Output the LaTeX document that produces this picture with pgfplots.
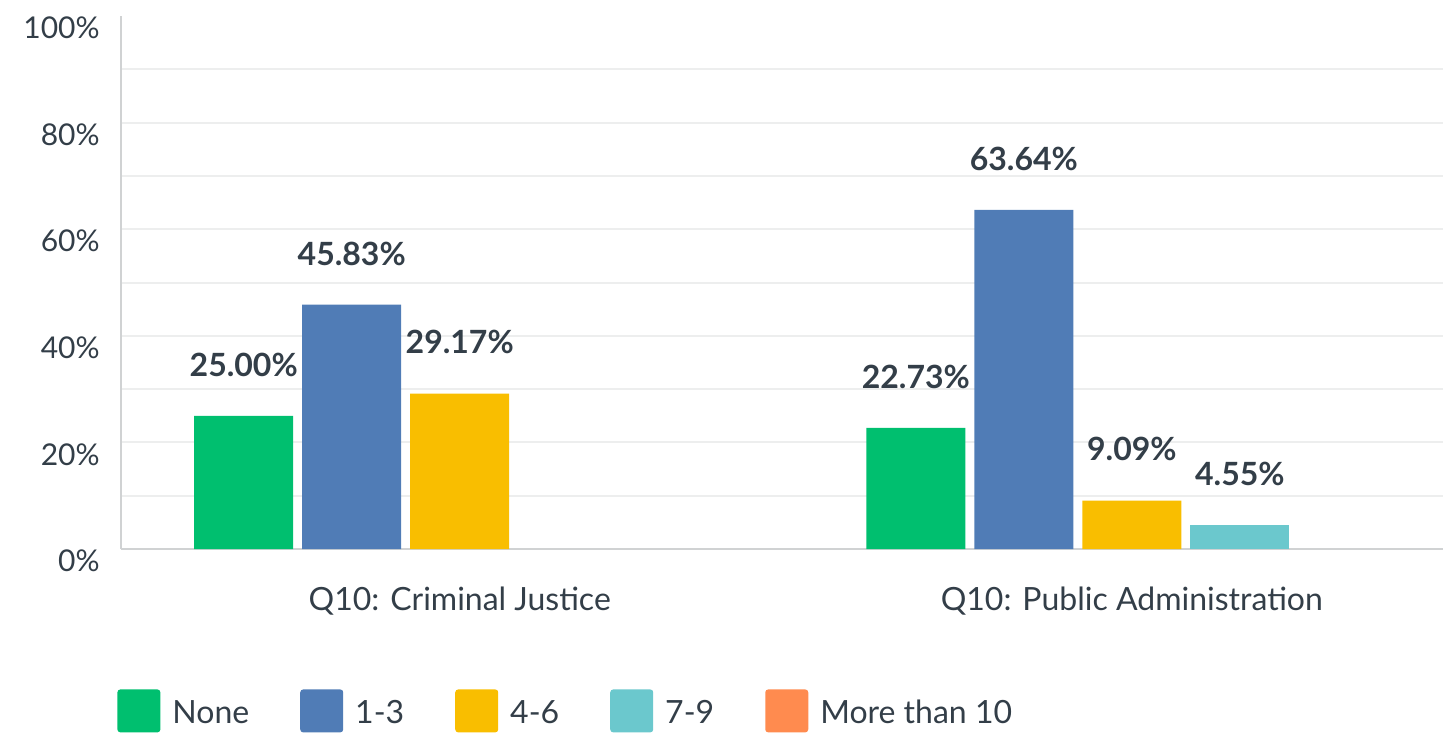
\documentclass[border=0pt]{standalone}
\usepackage{pgfplots}
\pgfplotsset{compat=1.18}
\usepackage{fontspec}
\setmainfont{Lato}

\definecolor{cNone}{HTML}{00BF6F}
\definecolor{cOneThree}{HTML}{507CB6}
\definecolor{cFourSix}{HTML}{F9BE00}
\definecolor{cSevenNine}{HTML}{6BC8CD}
\definecolor{cMore}{HTML}{FF8B4F}
\definecolor{txt}{HTML}{333E48}
\definecolor{gridc}{HTML}{EDEEEE}
\definecolor{axc}{HTML}{D0D2D3}

\pgfplotsset{
  sq legend/.style={legend image code/.code={
    \fill[##1, draw=none, rounded corners=1.5pt] (0pt,-9.5pt) rectangle (21.5pt,12pt);}},
}

\begin{document}
\begin{tikzpicture}
\begin{axis}[
  scale only axis, width=661pt, height=266.5pt,
  xmin=-0.504, xmax=1.463, ymin=0, ymax=100,
  ybar=4.5pt, bar width=49.5pt,
  axis lines=left,
  axis line style={-, draw=axc, line width=1pt},
  major tick length=0pt, minor tick length=0pt,
  ytick={0,10,...,90},
  yticklabels={0\%,,20\%,,40\%,,60\%,,80\%,},
  extra y ticks={100},
  extra y tick labels={100\%},
  extra y tick style={grid=none},
  ymajorgrids,
  grid style={draw=gridc, line width=1pt},
  yticklabel style={anchor=east, inner sep=0pt, xshift=-10.5pt, yshift=-6pt,
    font=\fontsize{15}{18}\selectfont, text=txt},
  xtick={0,1},
  xticklabels={Q10: Criminal Justice, Q10: Public Administration},
  xticklabel style={anchor=north, inner sep=0pt, yshift=-19pt,
    font=\fontsize{16}{19}\selectfont, text=txt},
  nodes near coords={\pgfmathprintnumber[fixed,fixed zerofill,precision=2,assume math mode=true]{\pgfplotspointmeta}\%},
  every node near coord/.append style={anchor=south, inner sep=0pt, yshift=19.5pt,
    font=\bfseries\fontsize{16}{19}\selectfont, text=txt},
  legend columns=5,
  legend cell align=left,
  legend style={at={(rel axis cs:0,0)}, anchor=north west, xshift=-2pt, yshift=-70pt,
    draw=none, fill=none, inner sep=0pt,
    font=\fontsize{16}{19}\selectfont, text=txt,
    /tikz/every odd column/.append style={column sep=4pt},
    /tikz/every even column/.append style={column sep=23.5pt}},
]
\addplot[sq legend, fill=cNone, draw=none, bar shift=-108pt] coordinates {(0,25.00) (1,22.73)};
\addlegendentry{None}
\addplot[sq legend, fill=cOneThree, draw=none, bar shift=-54pt] coordinates {(0,45.83) (1,63.64)};
\addlegendentry{1-3}
\addplot[sq legend, fill=cFourSix, draw=none, bar shift=0pt] coordinates {(0,29.17) (1,9.09)};
\addlegendentry{4-6}
\addplot[sq legend, fill=cSevenNine, draw=none, bar shift=54pt] coordinates {(1,4.55)};
\addlegendentry{7-9}
\addlegendimage{sq legend, fill=cMore, draw=none}
\addlegendentry{More than 10}
\coordinate (ll) at (rel axis cs:0,0);
\coordinate (ur) at (rel axis cs:1,1);
\end{axis}
\pgfresetboundingbox
\path ([shift={(-60.5pt,-93pt)}]ll) rectangle ([shift={(1pt,8pt)}]ur);
\end{tikzpicture}
\end{document}
